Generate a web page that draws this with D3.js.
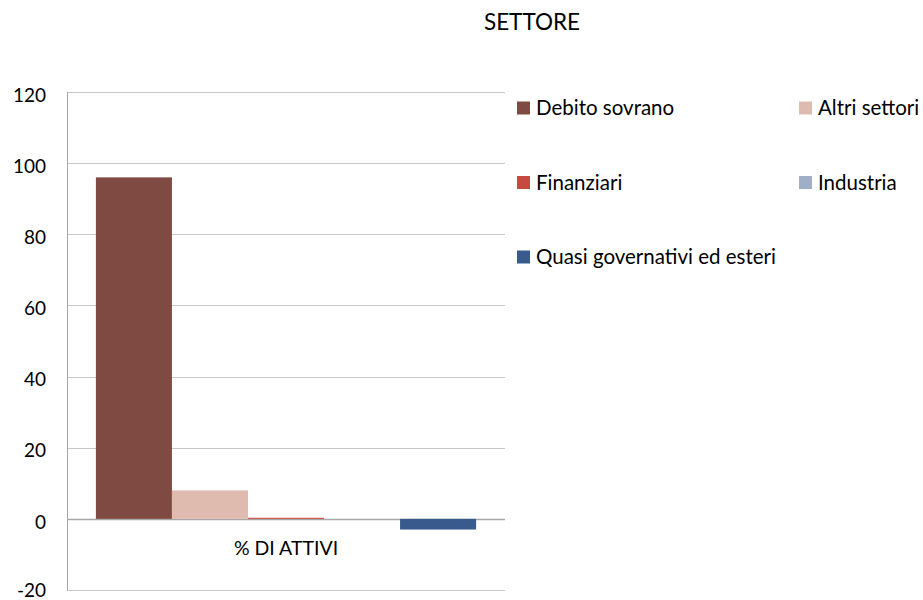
<!DOCTYPE html>
<html>
<head>
<meta charset="utf-8">
<script src="https://cdn.jsdelivr.net/npm/d3@7"></script>
<style>
  body { margin: 0; background: #fff; }
  svg text { font-family: Lato, "Open Sans", sans-serif; fill: #000; }
</style>
</head>
<body>
<svg id="canvas" width="923" height="600"></svg>
<script>
// Data
var categories = ["% DI ATTIVI"];
var seriesNames = ["Debito sovrano", "Altri settori", "Finanziari", "Industria", "Quasi governativi ed esteri"];
var seriesValues = [96, 8, 0.3, 0, -3];
var seriesColors = ["#7e4a41", "#dfbbaf", "#c8493f", "#a0afc7", "#385a8d"];
var yTicks = [-20, 0, 20, 40, 60, 80, 100, 120];

var svg = d3.select("#canvas");

// Plot area
var plot = {left: 67, right: 505, top: 92, bottom: 590};

// Scales
var y = d3.scaleLinear()
    .domain([-20, 120])
    .range([plot.bottom, plot.top]);
var x0 = d3.scaleBand()
    .domain(categories)
    .range([plot.left, plot.right])
    .paddingInner(0)
    .paddingOuter(0.076);
var x1 = d3.scaleBand()
    .domain(seriesNames)
    .range([0, x0.bandwidth()]);

// Gridlines
svg.append("g")
    .selectAll("line")
    .data(yTicks)
    .enter().append("line")
    .attr("x1", plot.left)
    .attr("x2", plot.right)
    .attr("y1", function(d){ return Math.round(y(d)) + 0.5; })
    .attr("y2", function(d){ return Math.round(y(d)) + 0.5; })
    .attr("stroke", function(d){ return d === 0 ? "#a6a6a6" : "#c8c8c8"; })
    .attr("stroke-width", function(d){ return d === 0 ? 1.5 : 1; });

// Left axis line
svg.append("line")
    .attr("x1", plot.left + 0.5)
    .attr("x2", plot.left + 0.5)
    .attr("y1", plot.top)
    .attr("y2", plot.bottom + 0.5)
    .attr("stroke", "#a6a6a6");

// Tick labels (the lowest one is kept just inside the page)
svg.append("g")
    .selectAll("text")
    .data(yTicks)
    .enter().append("text")
    .attr("x", 46)
    .attr("y", function(d){ return Math.min(y(d) + 3, 590); })
    .attr("dy", "0.35em")
    .attr("text-anchor", "end")
    .style("font-size", "19px")
    .text(function(d){ return d; });

// Bars
var bars = svg.append("g")
    .selectAll("g")
    .data(categories)
    .enter().append("g")
    .attr("transform", function(d){ return "translate(" + x0(d) + ",0)"; });
bars.selectAll("rect")
    .data(seriesNames.map(function(n, i){ return {name: n, value: seriesValues[i], color: seriesColors[i]}; }))
    .enter().append("rect")
    .attr("x", function(d){ return x1(d.name); })
    .attr("width", x1.bandwidth())
    .attr("y", function(d){ return y(Math.max(0, d.value)); })
    .attr("height", function(d){ return Math.abs(y(d.value) - y(0)); })
    .attr("fill", function(d){ return d.color; });

// Category label
svg.append("g")
    .selectAll("text")
    .data(categories)
    .enter().append("text")
    .attr("x", function(d){ return x0(d) + x0.bandwidth() / 2; })
    .attr("y", 555)
    .attr("text-anchor", "middle")
    .style("font-size", "19.5px")
    .text(function(d){ return d; });

// Title
svg.append("text")
    .attr("x", 532)
    .attr("y", 30)
    .attr("text-anchor", "middle")
    .style("font-size", "22.5px")
    .text("SETTORE");

// Legend
var legend = svg.append("g")
    .selectAll("g")
    .data(seriesNames)
    .enter().append("g")
    .attr("transform", function(d, i){
        return "translate(" + (i % 2 === 0 ? 517 : 799) + "," + (108 + Math.floor(i / 2) * 74.5) + ")";
    });
legend.append("rect")
    .attr("x", 0)
    .attr("y", -6.5)
    .attr("width", 13)
    .attr("height", 13)
    .attr("fill", function(d, i){ return seriesColors[i]; });
legend.append("text")
    .attr("x", 19)
    .attr("y", 0)
    .attr("dy", "0.35em")
    .style("font-size", "20.5px")
    .text(function(d){ return d; });
</script>
</body>
</html>
